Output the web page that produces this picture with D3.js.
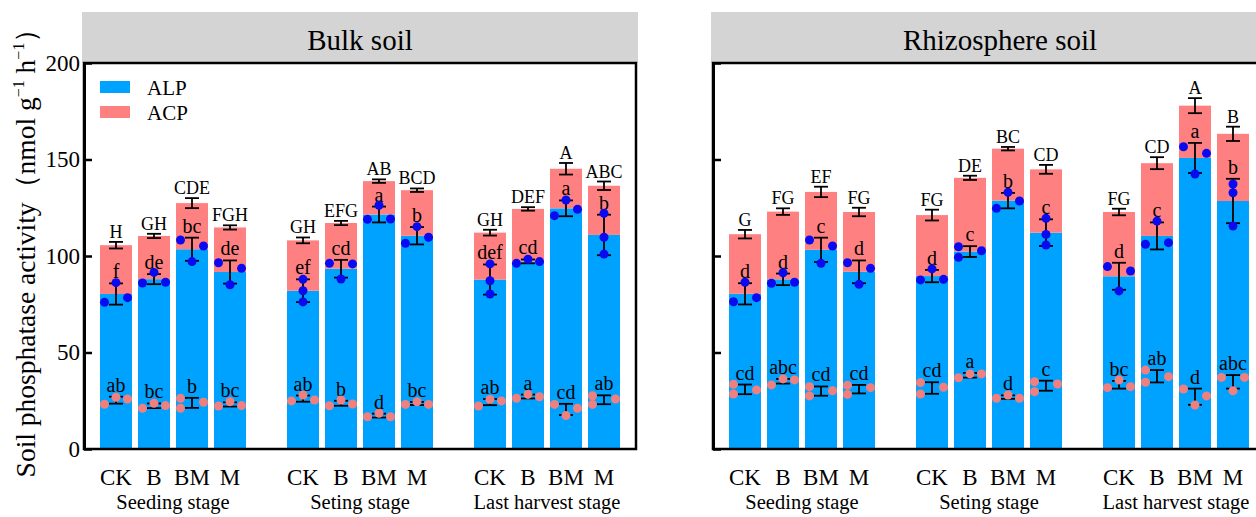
<!DOCTYPE html>
<html><head><meta charset="utf-8">
<script src="https://cdn.jsdelivr.net/npm/d3@7"></script>
<style>
body{margin:0;background:#fff}
text{font-family:"Liberation Serif","Times New Roman",serif;fill:#000}
</style>
</head><body><svg id="c" width="1256" height="517"></svg>
<script>
// ---------- data ----------
const panels = ["Bulk soil", "Rhizosphere soil"];
const stages = ["Seeding stage", "Seting stage", "Last harvest stage"];
const treatments = ["CK", "B", "BM", "M"];
const seriesNames = ["ALP", "ACP"];
const yTicks = [0, 50, 100, 150, 200];

// order: Seeding CK,B,BM,M | Seting CK,B,BM,M | Last harvest CK,B,BM,M
const bulkAlpMean = [80.3, 88.0, 103.5, 91.7, 82.0, 93.4, 121.5, 110.5, 87.8, 97.2, 124.7, 110.9];
const bulkAlpSd   = [5.5, 2.6, 6.0, 6.0, 5.9, 4.6, 4.1, 4.5, 7.8, 1.0, 4.1, 10.5];
const bulkAlpDots = [[76.0,86.2,78.4],[86.0,91.5,86.4],[108.3,97.1,105.2],[96.5,85.1,93.6],
                     [87.9,82.0,76.2],[96.2,88.1,95.9],[119.0,126.3,119.2],[106.6,115.2,109.7],
                     [95.9,87.2,80.3],[96.2,98.3,97.1],[120.9,129.0,124.2],[122.1,109.7,101.0]];
const bulkAlpJit  = [[-1,0,1],[-1,0,1],[-1,0,1],[-1,0,1],[0,0,0],[-1,0,1],[-1,0,1],[-1,0,1],
                     [0,0,0],[-1,0,1],[-1,0,1],[0,0,0]];
const bulkAcpMean = [25.3, 22.4, 23.9, 23.1, 26.1, 23.7, 17.3, 23.6, 24.3, 27.2, 20.5, 25.5];
const bulkAcpSd   = [1.8, 1.2, 2.6, 1.1, 1.6, 1.3, 1.0, 0.8, 1.6, 1.0, 2.9, 2.3];
const bulkAcpDots = [[23.2,26.8,25.9],[21.1,23.7,22.5],[26.3,21.1,24.2],[22.3,24.5,22.5],
                     [24.9,28.0,25.4],[22.4,25.4,23.3],[16.7,18.5,16.7],[23.1,24.5,23.1],
                     [22.3,25.7,24.9],[26.3,28.3,27.1],[23.1,17.3,21.1],[27.6,23.1,25.9]];
const bulkAcpJit  = [[-1,0,1],[-1,0,1],[-1,-1,1],[-1,0,1],[-1,0,1],[-1,0,1],[-1,0,1],[-1,0,1],
                     [-1,0,1],[-1,0,1],[-1,0,1],[-1,-1,1]];
const bulkTotalSd = [1.7, 1.1, 2.6, 1.1, 1.5, 1.1, 0.9, 0.9, 1.5, 0.9, 3.0, 2.2];
const bulkTotalLetters = ["H","GH","CDE","FGH","GH","EFG","AB","BCD","GH","DEF","A","ABC"];
const bulkAlpLetters   = ["f","de","bc","de","ef","cd","a","b","def","cd","a","b"];
const bulkAcpLetters   = ["ab","bc","b","bc","ab","b","d","bc","ab","a","cd","ab"];

const rhizoAlpMean = [80.4, 87.9, 103.2, 91.8, 89.6, 102.3, 128.7, 112.1, 89.5, 110.4, 150.8, 128.5];
const rhizoAlpSd   = [5.5, 3.0, 6.3, 5.9, 3.2, 2.8, 4.0, 6.9, 7.0, 7.0, 7.8, 11.5];
const rhizoAlpDots = [[76.3,86.4,78.4],[85.9,91.3,86.4],[108.3,96.2,105.2],[96.5,85.3,93.6],
                      [87.6,93.3,87.9],[104.8,99.3,102.7],[124.7,133.0,128.5],[119.5,111.2,105.7],
                      [94.5,81.9,92.2],[106.1,118.1,106.9],[156.6,142.5,153.2],[137.3,132.8,115.5]];
const rhizoAlpJit  = [[-1,0,1],[-1,0,1],[-1,0,1],[-1,0,1],[-1,0,1],[-1,-1,1],[-1,0,1],[0,0,0],
                      [-1,0,1],[-1,0,1],[-1,0,1],[0,0,0]];
const rhizoAcpMean = [30.9, 35.1, 30.0, 31.0, 31.6, 38.2, 26.9, 32.8, 33.3, 37.7, 27.1, 34.8];
const rhizoAcpSd   = [2.5, 1.2, 2.4, 2.2, 3.0, 1.2, 0.9, 2.6, 2.0, 3.2, 4.2, 3.5];
const rhizoAcpDots = [[33.5,28.5,30.6],[33.2,36.3,35.8],[32.3,27.5,30.2],[33.0,28.3,31.8],
                      [34.4,28.5,32.0],[36.9,38.9,38.9],[26.3,28.0,26.3],[34.9,29.7,33.7],
                      [31.8,35.8,32.3],[40.9,34.6,37.5],[31.1,22.8,27.5],[37.1,30.2,37.1]];
const rhizoAcpJit  = [[-1,-1,1],[-1,0,1],[-1,-1,1],[-1,-1,1],[-1,-1,1],[-1,0,1],[-1,0,1],[-1,-1,1],
                      [-1,0,1],[-1,-1,1],[-1,0,1],[-1,0,1]];
const rhizoTotalSd = [2.2, 1.7, 2.7, 2.2, 2.8, 1.1, 0.9, 2.3, 1.7, 3.1, 3.9, 3.7];
const rhizoTotalLetters = ["G","FG","EF","FG","FG","DE","BC","CD","FG","CD","A","B"];
const rhizoAlpLetters   = ["d","d","c","d","d","c","b","c","d","c","a","b"];
const rhizoAcpLetters   = ["cd","abc","cd","cd","cd","a","d","c","bc","ab","d","abc"];

// ---------- layout / style ----------
const colALP = "#00a2ff", colACP = "#ff8080";
const dotALP = "#0a0af0", dotACP = "#f08080";
const plotTop = 63, plotBottom = 449, plotW = 552;
const panelX = [84, 713], frameW = [552, 574];
const serif = '"Liberation Serif","Times New Roman",serif';

const svg = d3.select("#c");
svg.append("rect").attr("width", 1256).attr("height", 517).attr("fill", "#fff");

const y = d3.scaleLinear().domain([0, 200]).range([plotBottom, plotTop]);
const xStage = d3.scalePoint().domain(stages).range([0, plotW]).padding(0.476);
const xTreat = d3.scaleBand().domain(treatments).range([-76, 76]).paddingInner(0.158).paddingOuter(0.079);
const bw = xTreat.bandwidth();
const jitW = bw * 0.36;

const panelData = [
  {alpM: bulkAlpMean, alpS: bulkAlpSd, alpD: bulkAlpDots, alpJ: bulkAlpJit,
   acpM: bulkAcpMean, acpS: bulkAcpSd, acpD: bulkAcpDots, acpJ: bulkAcpJit,
   totS: bulkTotalSd, totL: bulkTotalLetters, alpL: bulkAlpLetters, acpL: bulkAcpLetters},
  {alpM: rhizoAlpMean, alpS: rhizoAlpSd, alpD: rhizoAlpDots, alpJ: rhizoAlpJit,
   acpM: rhizoAcpMean, acpS: rhizoAcpSd, acpD: rhizoAcpDots, acpJ: rhizoAcpJit,
   totS: rhizoTotalSd, totL: rhizoTotalLetters, alpL: rhizoAlpLetters, acpL: rhizoAcpLetters}
];

panels.forEach((pname, p) => {
  const g = svg.append("g").attr("transform", `translate(${panelX[p]},0)`);
  const D = panelData[p];
  // strip
  g.append("rect").attr("x", -2).attr("y", 12).attr("width", frameW[p] + 4).attr("height", plotTop - 12)
    .attr("fill", "#d4d4d4");
  g.append("text").attr("x", frameW[p] / 2).attr("y", 50).attr("text-anchor", "middle")
    .attr("font-size", 29).text(pname);

  const rows = [];
  stages.forEach((s, si) => treatments.forEach((t, ti) => {
    const i = si * treatments.length + ti;
    rows.push({i, s, t, cx: xStage(s) + xTreat(t) + bw / 2});
  }));

  // bars
  g.selectAll(".alp").data(rows).join("rect")
    .attr("x", d => d.cx - bw / 2).attr("width", bw)
    .attr("y", d => y(D.alpM[d.i])).attr("height", d => y(0) - y(D.alpM[d.i]))
    .attr("fill", colALP);
  g.selectAll(".acp").data(rows).join("rect")
    .attr("x", d => d.cx - bw / 2).attr("width", bw)
    .attr("y", d => y(D.alpM[d.i] + D.acpM[d.i])).attr("height", d => y(D.alpM[d.i]) - y(D.alpM[d.i] + D.acpM[d.i]))
    .attr("fill", colACP);

  // error bars
  const capW = 7;
  function errbar(cx, m, s) {
    const eg = g.append("g").attr("stroke", "#000").attr("stroke-width", 1.8);
    eg.append("line").attr("x1", cx).attr("x2", cx).attr("y1", y(m - s)).attr("y2", y(m + s));
    eg.append("line").attr("x1", cx - capW).attr("x2", cx + capW).attr("y1", y(m - s)).attr("y2", y(m - s));
    eg.append("line").attr("x1", cx - capW).attr("x2", cx + capW).attr("y1", y(m + s)).attr("y2", y(m + s));
  }
  rows.forEach(d => {
    const tot = D.alpM[d.i] + D.acpM[d.i];
    errbar(d.cx, tot, D.totS[d.i]);
    errbar(d.cx, D.alpM[d.i], D.alpS[d.i]);
    errbar(d.cx, D.acpM[d.i], D.acpS[d.i]);
  });

  // letters
  rows.forEach(d => {
    const tot = D.alpM[d.i] + D.acpM[d.i];
    g.append("text").attr("x", d.cx).attr("y", y(tot + D.totS[d.i]) - 4)
      .attr("text-anchor", "middle").attr("font-size", 18).text(D.totL[d.i]);
    g.append("text").attr("x", d.cx).attr("y", y(D.alpM[d.i] + D.alpS[d.i]) - 5)
      .attr("text-anchor", "middle").attr("font-size", 20).text(D.alpL[d.i]);
    g.append("text").attr("x", d.cx).attr("y", y(D.acpM[d.i] + D.acpS[d.i]) - 5)
      .attr("text-anchor", "middle").attr("font-size", 20).text(D.acpL[d.i]);
  });

  // dots
  rows.forEach(d => {
    D.alpD[d.i].forEach((v, k) => g.append("circle").attr("cx", d.cx + D.alpJ[d.i][k] * jitW)
      .attr("cy", y(v)).attr("r", 4.5).attr("fill", dotALP));
    D.acpD[d.i].forEach((v, k) => g.append("circle").attr("cx", d.cx + D.acpJ[d.i][k] * jitW)
      .attr("cy", y(v)).attr("r", 4.5).attr("fill", dotACP));
  });

  // frame
  g.append("rect").attr("x", 0).attr("y", plotTop).attr("width", frameW[p]).attr("height", plotBottom - plotTop)
    .attr("fill", "none").attr("stroke", "#000").attr("stroke-width", 2.5);

  // y axis
  const ax = d3.axisLeft(y).tickValues(yTicks).tickSizeInner(-8).tickSizeOuter(0).tickPadding(4);
  if (p === 1) ax.tickFormat("");
  const ag = g.append("g").call(ax);
  ag.select(".domain").attr("stroke-width", 3);
  ag.selectAll(".tick line").attr("stroke-width", 2.5);
  ag.selectAll(".tick text").attr("font-size", 23).attr("font-family", serif).attr("fill", "#000");

  // x labels
  rows.forEach(d => g.append("text").attr("x", d.cx).attr("y", 485).attr("text-anchor", "middle")
    .attr("font-size", 23).text(d.t));
  stages.forEach(s => g.append("text").attr("x", xStage(s)).attr("y", 509).attr("text-anchor", "middle")
    .attr("font-size", 20.5).text(s));

  // legend
  if (p === 0) {
    [colALP, colACP].forEach((c, k) => {
      g.append("rect").attr("x", 16).attr("y", 81 + k * 25).attr("width", 30).attr("height", 12).attr("fill", c);
      g.append("text").attr("x", 63).attr("y", 95 + k * 25).attr("font-size", 21).text(seriesNames[k]);
    });
  }
});

// y title
const yt = svg.append("text").attr("transform", "translate(35,246) rotate(-90)")
  .attr("text-anchor", "middle").attr("font-size", 27.5);
yt.append("tspan").text("Soil phosphatase activity（nmol g");
yt.append("tspan").attr("font-size", 16).attr("dy", -11).text("−1");
yt.append("tspan").attr("dy", 11).text(" h");
yt.append("tspan").attr("font-size", 16).attr("dy", -11).text("−1");
yt.append("tspan").attr("dy", 11).text("）");
</script>
</body></html>
